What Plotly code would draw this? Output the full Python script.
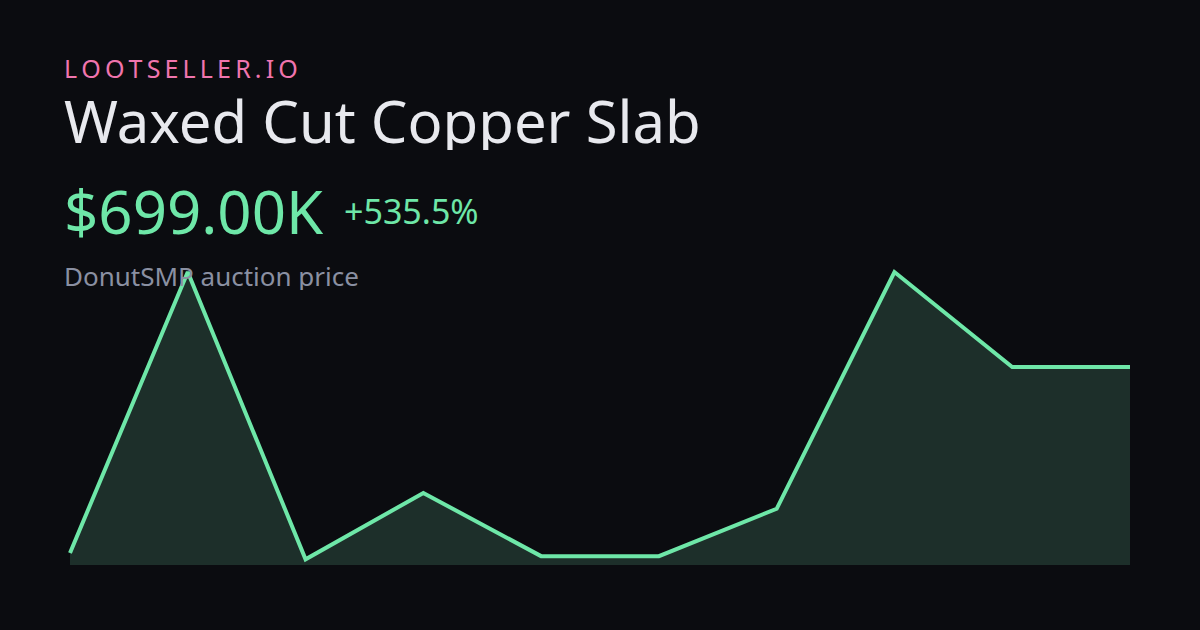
import plotly.graph_objects as go

# price history (thousands)
points = list(range(10))
prices = [110, 1000, 90, 300, 100, 100, 250, 1000, 699, 699]

site_name = "LOOTSELLER.IO"
item_name = "Waxed Cut Copper Slab"
price_text = "$699.00K"
change_text = "+535.5%"
source_text = "DonutSMP auction price"

BG = "#0b0c10"
GREEN = "#6ee7a8"
FILL = "#1d2f2a"

W, H = 1200, 630
L, R, T, B = 60, 60, 250, 65
plot_w = W - L - R
plot_h = H - T - B


def px(x):
    return (x - L) / plot_w


def py(y):
    return (H - B - y) / plot_h


# pixels per step so the first/last point land at 70 / 1130
step = 1060 / 9
pad = 10 / step

fig = go.Figure()
fig.add_trace(go.Scatter(
    x=points, y=prices, mode="lines",
    line=dict(color=GREEN, width=4),
    fill="tozeroy", fillcolor=FILL,
    hoverinfo="skip"
))

spaced = "\u2009".join(site_name)
# text, left, centre y, size, colour, box height
texts = [
    (spaced, 63, 68, 25, "#f075ae", 26),
    (item_name, 63, 120, 58, "#e8e9ee", 60),
    (price_text, 63, 211, 60, GREEN, 62),
    (change_text, 343, 211, 34, GREEN, 36),
    (source_text, 63, 276, 26, "#8a90a2", 28),
]
for txt, x, y, size, color, h in texts:
    fig.add_annotation(
        text=txt, x=px(x), y=py(y), xref="paper", yref="paper",
        xanchor="left", yanchor="middle", showarrow=False,
        font=dict(family="Noto Sans", size=size, color=color),
        borderpad=0, height=h
    )

fig.update_layout(
    width=W, height=H,
    margin=dict(l=L, r=R, t=T, b=B),
    paper_bgcolor=BG, plot_bgcolor=BG,
    showlegend=False,
    xaxis=dict(range=[-pad, 9 + pad], visible=False, fixedrange=True),
    yaxis=dict(range=[71.9, 1069.7], visible=False, fixedrange=True),
)

fig.write_html("out.html", config={"displayModeBar": False},
               post_script="document.body.style.margin='0';")
